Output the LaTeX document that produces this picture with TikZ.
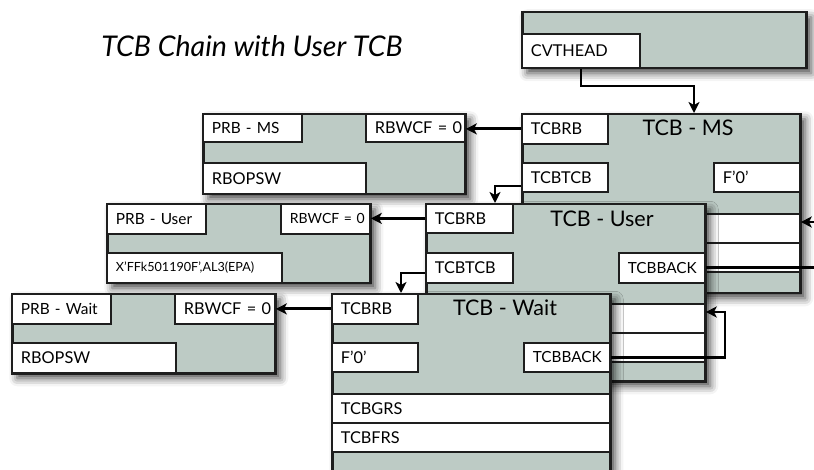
\documentclass[tikz,border=0pt]{standalone}
\usepackage{fontspec}
\setmainfont{Lato}
\usetikzlibrary{arrows.meta,shadows.blur}
\definecolor{panel}{RGB}{189,203,197}
\definecolor{edge}{RGB}{30,30,30}

\begin{document}
\begin{tikzpicture}[x=1pt,y=-1pt,
  panelbox/.style={draw=edge, line width=2.5pt, fill=panel, anchor=north west, inner sep=0pt,
    blur shadow={shadow xshift=5pt, shadow yshift=-5pt, shadow blur radius=8pt, shadow opacity=72}},
  cell/.style={draw=edge, line width=1.8pt, fill=white, anchor=north west, inner xsep=9pt,
    inner ysep=0pt, align=left, font=\fontsize{16.3}{18}\selectfont,
    execute at begin node={\hbox\bgroup}, execute at end node={\egroup}},
  prbname/.style={font=\fontsize{15.4}{17}\selectfont},
  backtext/.style={font=\fontsize{15.3}{17}\selectfont},
  smalltext/.style={font=\fontsize{14}{16}\selectfont},
  tinytext/.style={font=\fontsize{12.6}{15}\selectfont},
  heading/.style={font=\fontsize{21.5}{26}\selectfont, inner sep=0pt},
  link/.style={line width=2.8pt, draw=black, -{Stealth[length=11pt,width=11pt,inset=3pt]}},
  wire/.style={line width=2.8pt, draw=black},
]
\useasboundingbox (0,0) rectangle (814,470);
\clip (0,0) rectangle (814,470);

\node[font=\fontsize{28.5}{32}\selectfont\itshape] (title) at (252,46) {TCB Chain with User TCB};

% CVT
\node[panelbox, minimum width=284pt, minimum height=56pt] (cvt) at (521,11) {};
\node[cell, text width=100pt, minimum height=34pt] (cvthead) at (521,33) {CVTHEAD};

% PRB - MS
\node[panelbox, minimum width=262pt, minimum height=80pt] (prbms) at (202,113) {};
\node[cell, prbname, text width=81pt, minimum height=28pt] (pmsname) at (202,113) {PRB - MS};
\node[cell, text width=81pt, minimum height=28pt] (pmswcf) at (365,113) {RBWCF = 0};
\node[cell, text width=145pt, minimum height=31pt] (pmspsw) at (202,162) {RBOPSW};

% TCB - MS
\node[panelbox, minimum width=278pt, minimum height=179pt] (ms) at (521,113) {};
\node[heading] (mstitle) at (688,128) {TCB - MS};
\node[cell, text width=68pt, minimum height=30pt] (msrb) at (521,113) {TCBRB};
\node[cell, text width=68pt, minimum height=29pt] (mstcb) at (521,162) {TCBTCB};
\node[cell, text width=68pt, minimum height=29pt] (msf) at (713,162) {F'0'};
\node[cell, text width=260pt, minimum height=29pt] (msrowa) at (521,213) {};
\node[cell, text width=260pt, minimum height=29pt] (msrowb) at (521,242) {};

% PRB - User
\node[panelbox, minimum width=263pt, minimum height=79pt] (prbuser) at (106,203) {};
\node[cell, prbname, text width=81pt, minimum height=30pt] (pusname) at (106,203) {PRB - User};
\node[cell, smalltext, text width=71pt, minimum height=30pt] (puswcf) at (280,203) {RBWCF = 0};
\node[cell, tinytext, text width=157pt, minimum height=30pt] (puspsw) at (106,252) {X'FFk501190F',AL3(EPA)};

% TCB - User
\node[panelbox, minimum width=279pt, minimum height=177pt] (user) at (425,203) {};
\node[heading] (usertitle) at (602,219) {TCB - User};
\node[cell, text width=69pt, minimum height=29pt] (urb) at (425,203) {TCBRB};
\node[cell, text width=69pt, minimum height=30pt] (utcb) at (425,252) {TCBTCB};
\node[cell, backtext, text width=68pt, minimum height=30pt] (uback) at (618,252) {TCBBACK};
\node[cell, text width=261pt, minimum height=29pt] (urowa) at (425,303) {};
\node[cell, text width=261pt, minimum height=29pt] (urowb) at (425,332) {};

% PRB - Wait
\node[panelbox, minimum width=263pt, minimum height=79pt] (prbwait) at (11,293) {};
\node[cell, prbname, text width=81pt, minimum height=30pt] (pwname) at (11,293) {PRB - Wait};
\node[cell, text width=82pt, minimum height=30pt] (pwwcf) at (174,293) {RBWCF = 0};
\node[cell, text width=146pt, minimum height=30pt] (pwpsw) at (11,342) {RBOPSW};

% TCB - Wait
\node[panelbox, minimum width=278pt, minimum height=190pt] (wait) at (331,293) {};
\node[heading] (waittitle) at (505,308) {TCB - Wait};
\node[cell, text width=68pt, minimum height=30pt] (wrb) at (331,293) {TCBRB};
\node[cell, text width=68pt, minimum height=29pt] (wf) at (331,342) {F'0'};
\node[cell, backtext, text width=68pt, minimum height=29pt] (wback) at (523,342) {TCBBACK};
\node[cell, text width=260pt, minimum height=29pt] (wgrs) at (331,393) {TCBGRS};
\node[cell, text width=260pt, minimum height=29pt] (wfrs) at (331,422) {TCBFRS};

% bend points and free ends of the chain links
\coordinate (cvtbend) at (694,86);
\coordinate (msdrop) at (495,186);
\coordinate (udrop) at (401,273);
\coordinate (wloop) at (725,312);
\coordinate (uexit) at (820,266);
\coordinate (msin) at (820,222);

\draw[link] (cvthead.south) |- (cvtbend) -- (cvtbend |- ms.north);
\draw[link] (msrb.west) -- (msrb.west -| pmswcf.east);
\draw[link] (urb.west) -- (urb.west -| puswcf.east);
\draw[link] (wrb.west) -- (wrb.west -| pwwcf.east);
\draw[link] (mstcb.west |- msdrop) -- (msdrop) -- (msdrop |- user.north);
\draw[link] (utcb.west |- udrop) -- (udrop) -- (udrop |- wait.north);
\draw[link] (wback.east) -| (wloop) -- (wloop -| urowa.east);
\draw[wire] (uback.east) -- (uback.east -| uexit);
\draw[link] (msin) -- (msin -| msrowa.east);
\end{tikzpicture}
\end{document}
